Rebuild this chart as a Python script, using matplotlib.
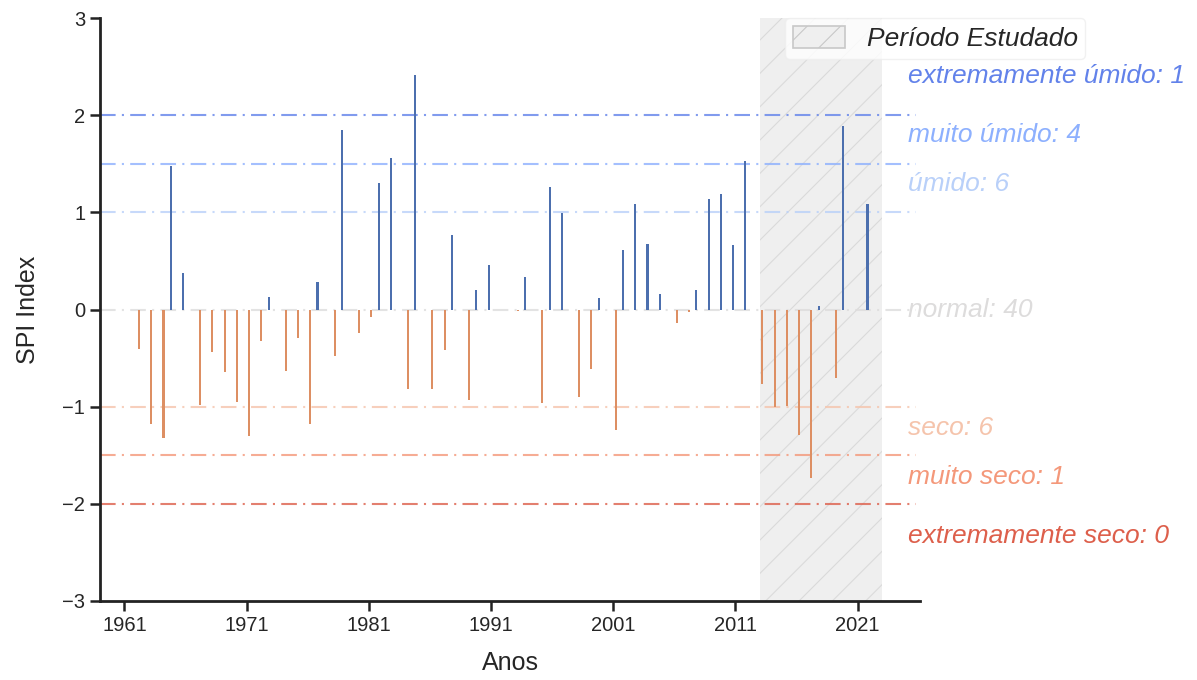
import numpy as np
import matplotlib; matplotlib.use('Agg')
import matplotlib.pyplot as plt
import seaborn as sns

# SPI anual
anos = np.arange(1961, 2023)
spi = [0.00, -0.41, -1.18, -1.32, 1.48, 0.38, -0.98, -0.44, -0.64, -0.95,
       -1.30, -0.32, 0.13, -0.63, -0.29, -1.18, 0.28, -0.48, 1.85, -0.24,
       -0.08, 1.30, 1.56, -0.82, 2.41, -0.82, -0.42, 0.77, -0.93, 0.20,
       0.46, 0.00, -0.02, 0.33, -0.96, 1.26, 0.99, -0.90, -0.61, 0.12,
       -1.24, 0.61, 1.09, 0.67, 0.16, -0.14, -0.03, 0.20, 1.14, 1.19,
       0.66, 1.53, -0.77, -1.00, -0.99, -1.29, -1.73, 0.04, -0.70, 1.89,
       0.00, 1.09]
spi = np.array(spi)

limiares = [2, 1.5, 1, 0, -1, -1.5, -2]
rotulos = ['extremamente úmido: 1', 'muito úmido: 4', 'úmido: 6', 'normal: 40',
           'seco: 6', 'muito seco: 1', 'extremamente seco: 0']
rotulo_y = [2.40, 1.80, 1.29, 0.0, -1.22, -1.72, -2.33]
periodo = (2013, 2023)

sns.set_style('ticks')
plt.rcParams['font.family'] = ['Liberation Sans', 'DejaVu Sans']
plt.rcParams['hatch.linewidth'] = 0.8
plt.rcParams['hatch.color'] = '#dadada'
cores = sns.color_palette('coolwarm', 7)

fig = plt.figure(figsize=(11.97, 6.8), dpi=100)
ax = fig.add_axes([0.0835, 0.1162, 0.6851, 0.8573])

ax.axvspan(*periodo, facecolor='#efefef', edgecolor='#dadada', hatch='/', lw=0,
           label='Período Estudado', zorder=0)

for y, c in zip(limiares, cores):
    ax.hlines(y, 1959, 2025.8, colors=[c], linestyles=[(0, (7.5, 3, 1, 3))],
              lw=1.5, alpha=0.8, zorder=1)
for y, t, c in zip(rotulo_y, rotulos, cores):
    ax.text(2025.1, y, t, color=c, fontsize=19, style='italic', va='center', ha='left')

pos = spi > 0
neg = spi < 0
ax.bar(anos[pos] - 0.2, spi[pos], width=0.17, color='#4c6fae', lw=0, zorder=2)
ax.bar(anos[neg] + 0.2, spi[neg], width=0.17, color='#dd8f63', lw=0, zorder=2)

ax.set_xlim(1959, 2026.1)
ax.set_ylim(-3, 3)
ax.set_xticks(np.arange(1961, 2022, 10))
ax.set_yticks(np.arange(-3, 4, 1))
ax.set_yticklabels(['\u22123', '\u22122', '\u22121', '0', '1', '2', '3'])
ax.tick_params(labelsize=14.5, length=7, width=1.8, color='#222222')
for s in ['left', 'bottom']:
    ax.spines[s].set_linewidth(2)
    ax.spines[s].set_color('#222222')
sns.despine(ax=ax)
ax.set_xlabel('Anos', fontsize=18, labelpad=12)
ax.set_ylabel('SPI Index', fontsize=18, labelpad=16)

leg = ax.legend(loc='upper left', bbox_to_anchor=(0.835, 1.0), fontsize=19,
                frameon=True, handlelength=2.0, handleheight=0.9, borderaxespad=0,
                borderpad=0.3)
for t in leg.get_texts():
    t.set_style('italic')
leg.legend_handles[0].set_edgecolor('#c8c8c8')
leg.legend_handles[0].set_linewidth(1.2)
leg.get_frame().set_edgecolor('#eeeeee')

fig.savefig('out.png', dpi=100)
